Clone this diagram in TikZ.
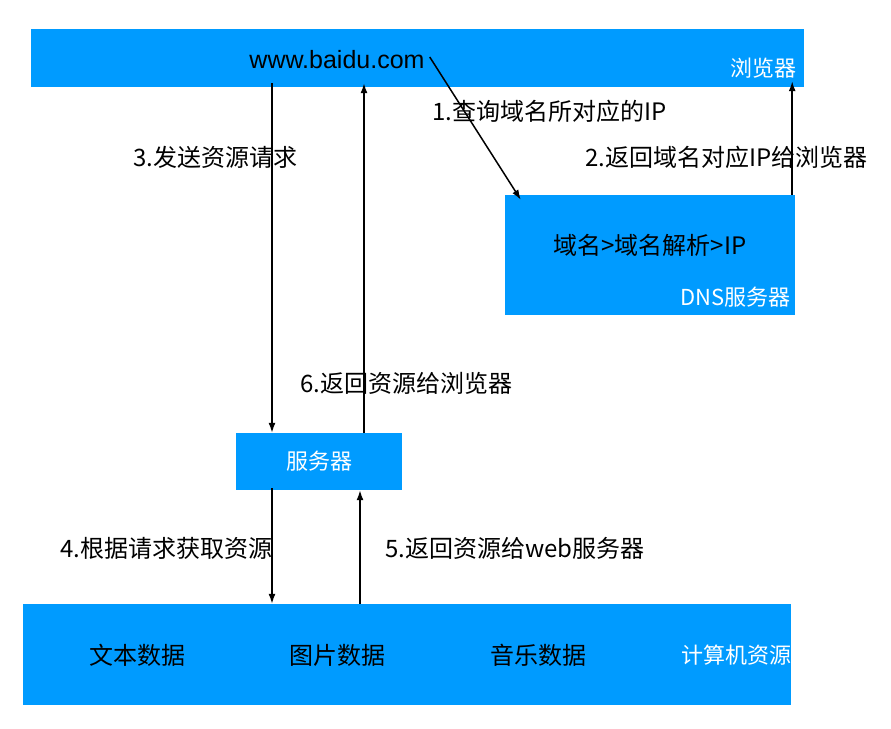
\documentclass[tikz,border=0pt]{standalone}
\usepackage{fontspec}
\setmainfont{Noto Sans CJK SC}
\newfontfamily\latinfont{Liberation Sans}
\usetikzlibrary{arrows.meta}
\definecolor{boxblue}{RGB}{0,155,255}
\begin{document}
\begin{tikzpicture}[x=1pt,y=-1pt,
  panel/.style={fill=boxblue,draw=none,inner sep=0pt,anchor=center},
  dark/.style={inner sep=0pt,text=black,font=\fontsize{24}{28}\selectfont},
  light/.style={inner sep=0pt,text=white,font=\fontsize{22}{26}\selectfont},
  lbl/.style={inner sep=0pt,anchor=west,text=black,font=\fontsize{24}{28}\selectfont},
  arr/.style={draw=black,line width=1.5pt,-{Latex[length=10pt,width=7pt]}}]
\useasboundingbox (0,0) rectangle (891,728);

% browser bar
\node[panel,minimum width=773pt,minimum height=58pt] (browser) at (417.5,58) {};
\node[inner sep=0pt,font=\latinfont\fontsize{25}{29}\selectfont] (url) at (337,60) {www.baidu.com};
\node[light,anchor=east] (browsername) at (797,68) {浏览器};

% DNS server
\node[panel,minimum width=290pt,minimum height=120pt] (dns) at (650,255) {};
\node[dark] (dnstext) at (650,245) {域名>域名解析>IP};
\node[light,anchor=east] (dnsname) at (791,297) {DNS服务器};

% web server
\node[panel,minimum width=166pt,minimum height=57pt] (server) at (319,461.5) {};
\node[light] (servername) at (319,461) {服务器};

% resources bar
\node[panel,minimum width=768pt,minimum height=101pt] (res) at (407,654.5) {};
\node[dark] (r1) at (137,655) {文本数据};
\node[dark] (r2) at (337,655) {图片数据};
\node[dark] (r3) at (538,655) {音乐数据};
\node[light] (r4) at (736,655) {计算机资源};

% connector anchors
\coordinate (s3) at ([xshift=-47pt]server.north);
\coordinate (s6) at ([xshift=45pt]server.north);
\coordinate (s4) at ([xshift=-47pt]server.south);
\coordinate (s5) at ([xshift=41pt]server.south);
\coordinate (d2) at ([xshift=-3pt]dns.north east);
\coordinate (u1) at ([shift={(5pt,3pt)}]url.east);
\coordinate (d1) at ([shift={(16pt,-5pt)}]dns.north west);

% connectors
\draw[arr] ([yshift=4pt]s3 |- browser.south) -- (s3);
\draw[arr] (s6) -- ([yshift=4pt]s6 |- browser.south);
\draw[arr] (u1) -- (d1);
\draw[arr] (d2) -- ([yshift=6pt]d2 |- browser.south);
\draw[arr] ([yshift=2pt]s4) -- (s4 |- res.north);
\draw[arr] (s5 |- res.north) -- (s5);

% step labels
\node[lbl] (l1) at (432,111) {1.查询域名所对应的IP};
\node[lbl] (l2) at (585,157) {2.返回域名对应IP给浏览器};
\node[lbl] (l3) at (133,157) {3.发送资源请求};
\node[lbl] (l4) at (60,548) {4.根据请求获取资源};
\node[lbl] (l5) at (385,548) {5.返回资源给web服务器};
\node[lbl] (l6) at (300,383) {6.返回资源给浏览器};
\end{tikzpicture}
\end{document}
